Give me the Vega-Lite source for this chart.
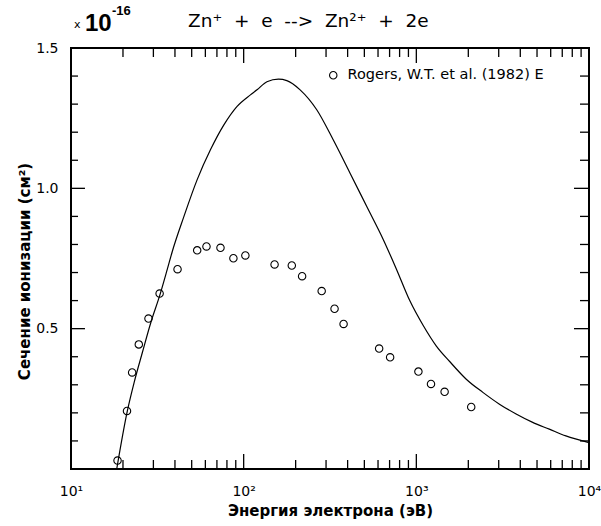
{
  "$schema": "https://vega.github.io/schema/vega-lite/v6.json",
  "width": 518,
  "height": 421,
  "autosize": {"type": "none"},
  "padding": {"left": 71, "top": 48, "right": 12, "bottom": 57},
  "background": "white",
  "config": {
    "view": {"stroke": "black", "strokeWidth": 2},
    "font": "DejaVu Sans"
  },
  "datasets": {
    "curve": [
      {"E": 18.4, "sigma": 0.0},
      {"E": 21.2, "sigma": 0.207},
      {"E": 23.2, "sigma": 0.308},
      {"E": 25.9, "sigma": 0.415},
      {"E": 29.0, "sigma": 0.522},
      {"E": 32.8, "sigma": 0.622},
      {"E": 36.1, "sigma": 0.711},
      {"E": 38.6, "sigma": 0.775},
      {"E": 45.1, "sigma": 0.9},
      {"E": 53.8, "sigma": 1.031},
      {"E": 64.3, "sigma": 1.138},
      {"E": 76.8, "sigma": 1.226},
      {"E": 91.6, "sigma": 1.292},
      {"E": 109.4, "sigma": 1.333},
      {"E": 119.5, "sigma": 1.351},
      {"E": 136.4, "sigma": 1.38},
      {"E": 159, "sigma": 1.389},
      {"E": 177.8, "sigma": 1.384},
      {"E": 212.3, "sigma": 1.351},
      {"E": 265, "sigma": 1.28},
      {"E": 330, "sigma": 1.173},
      {"E": 412.6, "sigma": 1.055},
      {"E": 515.5, "sigma": 0.936},
      {"E": 643, "sigma": 0.818},
      {"E": 767, "sigma": 0.712},
      {"E": 916, "sigma": 0.6},
      {"E": 1094, "sigma": 0.512},
      {"E": 1306, "sigma": 0.438},
      {"E": 1560, "sigma": 0.383},
      {"E": 1946, "sigma": 0.32},
      {"E": 2428, "sigma": 0.273},
      {"E": 3029, "sigma": 0.231},
      {"E": 3784, "sigma": 0.196},
      {"E": 4720, "sigma": 0.166},
      {"E": 5890, "sigma": 0.142},
      {"E": 7345, "sigma": 0.118},
      {"E": 10000, "sigma": 0.094}
    ],
    "points": [
      {"E": 18.6, "sigma": 0.03, "source": "Rogers, W.T. et al. (1982) E"},
      {"E": 21.1, "sigma": 0.207, "source": "Rogers, W.T. et al. (1982) E"},
      {"E": 22.6, "sigma": 0.344, "source": "Rogers, W.T. et al. (1982) E"},
      {"E": 24.7, "sigma": 0.444, "source": "Rogers, W.T. et al. (1982) E"},
      {"E": 28.1, "sigma": 0.536, "source": "Rogers, W.T. et al. (1982) E"},
      {"E": 32.6, "sigma": 0.625, "source": "Rogers, W.T. et al. (1982) E"},
      {"E": 41.4, "sigma": 0.712, "source": "Rogers, W.T. et al. (1982) E"},
      {"E": 53.8, "sigma": 0.779, "source": "Rogers, W.T. et al. (1982) E"},
      {"E": 60.9, "sigma": 0.793, "source": "Rogers, W.T. et al. (1982) E"},
      {"E": 73.4, "sigma": 0.788, "source": "Rogers, W.T. et al. (1982) E"},
      {"E": 87.2, "sigma": 0.751, "source": "Rogers, W.T. et al. (1982) E"},
      {"E": 102.3, "sigma": 0.761, "source": "Rogers, W.T. et al. (1982) E"},
      {"E": 151, "sigma": 0.729, "source": "Rogers, W.T. et al. (1982) E"},
      {"E": 190, "sigma": 0.725, "source": "Rogers, W.T. et al. (1982) E"},
      {"E": 218, "sigma": 0.687, "source": "Rogers, W.T. et al. (1982) E"},
      {"E": 283, "sigma": 0.634, "source": "Rogers, W.T. et al. (1982) E"},
      {"E": 336, "sigma": 0.571, "source": "Rogers, W.T. et al. (1982) E"},
      {"E": 379, "sigma": 0.517, "source": "Rogers, W.T. et al. (1982) E"},
      {"E": 609, "sigma": 0.429, "source": "Rogers, W.T. et al. (1982) E"},
      {"E": 705, "sigma": 0.398, "source": "Rogers, W.T. et al. (1982) E"},
      {"E": 1028, "sigma": 0.347, "source": "Rogers, W.T. et al. (1982) E"},
      {"E": 1216, "sigma": 0.303, "source": "Rogers, W.T. et al. (1982) E"},
      {"E": 1458, "sigma": 0.275, "source": "Rogers, W.T. et al. (1982) E"},
      {"E": 2079, "sigma": 0.221, "source": "Rogers, W.T. et al. (1982) E"}
    ]
  },
  "layer": [
    {
      "data": {"values": [
        {"E": 20}, {"E": 30}, {"E": 40}, {"E": 50}, {"E": 60}, {"E": 70}, {"E": 80}, {"E": 90},
        {"E": 200}, {"E": 300}, {"E": 400}, {"E": 500}, {"E": 600}, {"E": 700}, {"E": 800}, {"E": 900},
        {"E": 2000}, {"E": 3000}, {"E": 4000}, {"E": 5000}, {"E": 6000}, {"E": 7000}, {"E": 8000}, {"E": 9000}
      ]},
      "layer": [
        {
          "mark": {"type": "rule", "color": "black", "strokeWidth": 1.3, "clip": false},
          "encoding": {
            "x": {"field": "E", "type": "quantitative"},
            "y": {"datum": 0, "type": "quantitative"},
            "y2": {"datum": 0.032}
          }
        },
        {
          "mark": {"type": "rule", "color": "black", "strokeWidth": 1.3, "clip": false},
          "encoding": {
            "x": {"field": "E", "type": "quantitative"},
            "y": {"datum": 1.5, "type": "quantitative"},
            "y2": {"datum": 1.468}
          }
        }
      ]
    },
    {
      "data": {"values": [{"E": 100}, {"E": 1000}]},
      "layer": [
        {
          "mark": {"type": "rule", "color": "black", "strokeWidth": 1.3, "clip": false},
          "encoding": {
            "x": {"field": "E", "type": "quantitative"},
            "y": {"datum": 0, "type": "quantitative"},
            "y2": {"datum": 0.0534}
          }
        },
        {
          "mark": {"type": "rule", "color": "black", "strokeWidth": 1.3, "clip": false},
          "encoding": {
            "x": {"field": "E", "type": "quantitative"},
            "y": {"datum": 1.5, "type": "quantitative"},
            "y2": {"datum": 1.4466}
          }
        }
      ]
    },
    {
      "data": {"values": [
        {"sigma": 0.1}, {"sigma": 0.2}, {"sigma": 0.3}, {"sigma": 0.4},
        {"sigma": 0.6}, {"sigma": 0.7}, {"sigma": 0.8}, {"sigma": 0.9},
        {"sigma": 1.1}, {"sigma": 1.2}, {"sigma": 1.3}, {"sigma": 1.4}
      ]},
      "layer": [
        {
          "mark": {"type": "rule", "color": "black", "strokeWidth": 1.3, "clip": false},
          "encoding": {
            "y": {"field": "sigma", "type": "quantitative"},
            "x": {"datum": 10, "type": "quantitative"},
            "x2": {"datum": 10.98}
          }
        },
        {
          "mark": {"type": "rule", "color": "black", "strokeWidth": 1.3, "clip": false},
          "encoding": {
            "y": {"field": "sigma", "type": "quantitative"},
            "x": {"datum": 10000, "type": "quantitative"},
            "x2": {"datum": 8869}
          }
        }
      ]
    },
    {
      "data": {"values": [{"sigma": 0.5}, {"sigma": 1.0}]},
      "layer": [
        {
          "mark": {"type": "rule", "color": "black", "strokeWidth": 1.3, "clip": false},
          "encoding": {
            "y": {"field": "sigma", "type": "quantitative"},
            "x": {"datum": 10, "type": "quantitative"},
            "x2": {"datum": 12.05}
          }
        },
        {
          "mark": {"type": "rule", "color": "black", "strokeWidth": 1.3, "clip": false},
          "encoding": {
            "y": {"field": "sigma", "type": "quantitative"},
            "x": {"datum": 10000, "type": "quantitative"},
            "x2": {"datum": 8185}
          }
        }
      ]
    },
    {
      "data": {"name": "curve"},
      "mark": {"type": "line", "color": "black", "strokeWidth": 1.2, "interpolate": "monotone"},
      "encoding": {
        "x": {
          "field": "E", "type": "quantitative",
          "scale": {"type": "log", "domain": [10, 10000]},
          "axis": {
            "orient": "bottom",
            "values": [10, 100, 1000, 10000],
            "labelExpr": "datum.value == 10 ? '10¹' : datum.value == 100 ? '10²' : datum.value == 1000 ? '10³' : '10⁴'",
            "labelOverlap": false, "labelBound": false, "labelFlush": false,
            "ticks": false, "tickSize": 0, "domain": false, "grid": false,
            "labelFont": "DejaVu Sans", "labelFontSize": 14, "labelColor": "black", "labelPadding": 15,
            "title": "Энергия электрона (эВ)",
            "titleFont": "DejaVu Sans", "titleFontSize": 15, "titleFontWeight": "bold", "titleColor": "black", "titlePadding": 5
          }
        },
        "y": {
          "field": "sigma", "type": "quantitative",
          "scale": {"domain": [0, 1.5], "nice": false, "zero": false},
          "axis": {
            "orient": "left",
            "values": [0.5, 1.0, 1.5],
            "format": ".1f",
            "labelOverlap": false, "labelBound": false, "labelFlush": false,
            "ticks": false, "tickSize": 0, "domain": false, "grid": false,
            "labelFont": "DejaVu Sans", "labelFontSize": 14, "labelColor": "black", "labelPadding": 13,
            "title": "Сечение ионизации (см²)",
            "titleFont": "DejaVu Sans", "titleFontSize": 15, "titleFontWeight": "bold", "titleColor": "black", "titlePadding": 3,
            "titleY": 223
          }
        }
      }
    },
    {
      "data": {"name": "points"},
      "mark": {"type": "point", "shape": "circle", "filled": false, "size": 55, "strokeWidth": 1.1, "opacity": 1},
      "encoding": {
        "x": {"field": "E", "type": "quantitative"},
        "y": {"field": "sigma", "type": "quantitative"},
        "color": {
          "field": "source", "type": "nominal",
          "scale": {"range": ["black"]},
          "legend": {
            "orient": "none", "legendX": 255, "legendY": 20,
            "title": null,
            "symbolType": "circle", "symbolSize": 55, "symbolStrokeWidth": 1.1,
            "symbolStrokeColor": "black", "symbolFillColor": "transparent",
            "labelFont": "DejaVu Sans", "labelFontSize": 14.5, "labelColor": "black", "labelOffset": 7,
            "labelLimit": 400,
            "padding": 0
          }
        }
      }
    },
    {
      "data": {"values": [{}]},
      "mark": {"type": "text", "text": "x", "align": "left", "baseline": "alphabetic", "font": "DejaVu Sans", "fontSize": 11, "color": "black"},
      "encoding": {
        "x": {"datum": 10.41, "type": "quantitative"},
        "y": {"datum": 1.571, "type": "quantitative"}
      }
    },
    {
      "data": {"values": [{}]},
      "mark": {"type": "text", "text": "10", "align": "left", "baseline": "alphabetic", "font": "Liberation Sans", "fontSize": 24, "fontWeight": "bold", "color": "black"},
      "encoding": {
        "x": {"datum": 12.05, "type": "quantitative"},
        "y": {"datum": 1.56, "type": "quantitative"}
      }
    },
    {
      "data": {"values": [{}]},
      "mark": {"type": "text", "text": "-16", "align": "left", "baseline": "alphabetic", "font": "Liberation Sans", "fontSize": 13, "fontWeight": "bold", "color": "black"},
      "encoding": {
        "x": {"datum": 17.28, "type": "quantitative"},
        "y": {"datum": 1.617, "type": "quantitative"}
      }
    },
    {
      "data": {"values": [{}]},
      "mark": {"type": "text", "text": "Zn⁺\u00a0\u00a0+\u00a0\u00a0e\u00a0\u00a0-->\u00a0\u00a0Zn²⁺\u00a0\u00a0+\u00a0\u00a02e", "align": "left", "baseline": "alphabetic", "font": "DejaVu Sans", "fontSize": 18.5, "color": "black"},
      "encoding": {
        "x": {"datum": 47.6, "type": "quantitative"},
        "y": {"datum": 1.5746, "type": "quantitative"}
      }
    }
  ]
}
